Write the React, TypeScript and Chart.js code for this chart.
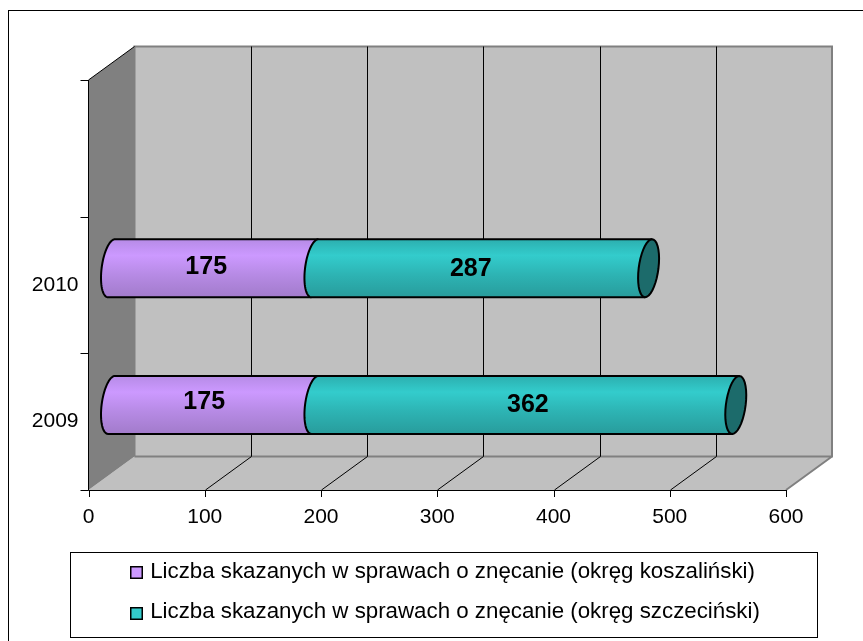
import React, { useEffect, useRef } from "react";
import { Chart, registerables } from "chart.js";

Chart.register(...registerables);

const categories = ["", "2010", "2009"];
const koszalin = [null, 175, 175];
const szczecin = [null, 287, 362];
const seriesNames = [
  "Liczba skazanych w sprawach o znęcanie (okręg koszaliński)",
  "Liczba skazanych w sprawach o znęcanie (okręg szczeciński)",
];
const seriesColors = ["#CC99FF", "#33CCCC"];
const xTicks = [0, 100, 200, 300, 400, 500, 600];

const FONT = "'Liberation Sans', Arial, sans-serif";
const DX = 46;
const DY = -33.5;
const A = 9.9;
const SHEAR = 3.5;
const LABEL_NUDGE: Record<string, [number, number]> = {
  "0-1": [-7, -1],
  "0-2": [-9, -2.5],
  "1-1": [-11, 1],
  "1-2": [2.5, 0.5],
};

function capPoint(xc: number, yc: number, b: number, t: number): [number, number] {
  return [xc + A * Math.cos(t) - SHEAR * Math.sin(t), yc + b * Math.sin(t)];
}

function arc(ctx: CanvasRenderingContext2D, xc: number, yc: number, b: number, from: number, to: number, move: boolean) {
  const n = 36;
  for (let i = 0; i <= n; i++) {
    const t = from + ((to - from) * i) / n;
    const [x, y] = capPoint(xc, yc, b, t);
    if (i === 0 && move) ctx.moveTo(x, y);
    else ctx.lineTo(x, y);
  }
}

function barGradient(ctx: CanvasRenderingContext2D, top: number, bottom: number, idx: number) {
  const g = ctx.createLinearGradient(0, top, 0, bottom);
  if (idx === 0) {
    g.addColorStop(0, "#B68BE6");
    g.addColorStop(0.28, "#CC99FF");
    g.addColorStop(0.62, "#B68AE4");
    g.addColorStop(1, "#A27BCB");
  } else {
    g.addColorStop(0, "#2CAFAF");
    g.addColorStop(0.28, "#33CCCC");
    g.addColorStop(0.62, "#2DB3B3");
    g.addColorStop(1, "#289C9C");
  }
  return g;
}

const scene3d = {
  id: "scene3d",
  afterLayout(chart: any) {
    const lg = chart.legend;
    if (lg) {
      lg.left = 113;
      lg.right = 818;
      lg.top = 544;
      lg.bottom = 641;
      lg.height = 97;
    }
  },
  beforeDatasetsDraw(chart: any) {
    const { ctx, chartArea: ca, scales } = chart;
    const { left, right, top, bottom } = ca;
    ctx.save();
    // outer frame
    ctx.strokeStyle = "#000";
    ctx.lineWidth = 1;
    ctx.strokeRect(8.5, 10.5, 900, 700);
    // back wall
    ctx.fillStyle = "#C0C0C0";
    ctx.fillRect(left + DX, top + DY, right - left, bottom - top);
    // floor
    ctx.beginPath();
    ctx.moveTo(left, bottom);
    ctx.lineTo(right, bottom);
    ctx.lineTo(right + DX, bottom + DY);
    ctx.lineTo(left + DX, bottom + DY);
    ctx.closePath();
    ctx.fill();
    // side wall
    ctx.fillStyle = "#808080";
    ctx.beginPath();
    ctx.moveTo(left, top);
    ctx.lineTo(left + DX, top + DY);
    ctx.lineTo(left + DX, bottom + DY);
    ctx.lineTo(left, bottom);
    ctx.closePath();
    ctx.fill();
    // wall edges
    ctx.strokeStyle = "#808080";
    ctx.lineWidth = 2;
    ctx.beginPath();
    ctx.moveTo(left + DX, bottom + DY);
    ctx.lineTo(left + DX, top + DY);
    ctx.lineTo(right + DX, top + DY);
    ctx.lineTo(right + DX, bottom + DY);
    ctx.lineTo(left + DX, bottom + DY);
    ctx.moveTo(right, bottom);
    ctx.lineTo(right + DX, bottom + DY);
    ctx.stroke();
    // grid
    ctx.strokeStyle = "#000";
    ctx.lineWidth = 1;
    ctx.beginPath();
    xTicks.forEach((v, i) => {
      const x = Math.round(scales.x.getPixelForValue(v)) + 0.5;
      ctx.moveTo(x, bottom);
      ctx.lineTo(x, bottom + 7);
      if (i > 0 && i < xTicks.length - 1) {
        ctx.moveTo(x, bottom);
        ctx.lineTo(x + DX, bottom + DY);
        ctx.lineTo(x + DX, top + DY);
      }
    });
    ctx.stroke();
    // category ticks, from the band edges
    const step = (bottom - top) / categories.length;
    ctx.beginPath();
    for (let i = 0; i <= categories.length; i++) {
      const y = Math.round(top + i * step) + 0.5;
      ctx.moveTo(left - 8, y);
      ctx.lineTo(left, y);
    }
    ctx.moveTo(left, top);
    ctx.lineTo(left, bottom + 0.5);
    ctx.moveTo(left, bottom + 0.5);
    ctx.lineTo(right, bottom + 0.5);
    ctx.moveTo(left, top);
    ctx.lineTo(left + DX, top + DY);
    ctx.stroke();
    ctx.restore();
  },
  afterDatasetsDraw(chart: any) {
    const { ctx } = chart;
    ctx.save();
    const half = { x: DX / 2, y: DY / 2 };
    chart.data.labels.forEach((_: string, j: number) => {
      chart.data.datasets.forEach((ds: any, i: number) => {
        if (ds.data[j] == null) return;
        const el = chart.getDatasetMeta(i).data[j];
        const x0 = el.base + half.x;
        const x1 = el.x + half.x;
        const yc = el.y + half.y;
        const b = el.height / 2;
        ctx.beginPath();
        arc(ctx, x0, yc, b, -Math.PI / 2, -(3 * Math.PI) / 2, true);
        arc(ctx, x1, yc, b, Math.PI / 2, -Math.PI / 2, false);
        ctx.closePath();
        ctx.fillStyle = barGradient(ctx, yc - b, yc + b, i);
        ctx.fill();
        ctx.strokeStyle = "#000";
        ctx.lineWidth = 2;
        ctx.lineJoin = "round";
        ctx.beginPath();
        arc(ctx, x1, yc, b, -Math.PI / 2, -Math.PI / 2, true);
        const [tx, ty] = capPoint(x0, yc, b, -Math.PI / 2);
        ctx.lineTo(tx, ty);
        arc(ctx, x0, yc, b, -Math.PI / 2, -(3 * Math.PI) / 2, false);
        const [bx, by] = capPoint(x1, yc, b, Math.PI / 2);
        ctx.lineTo(bx, by);
        ctx.stroke();
        if (i === chart.data.datasets.length - 1) {
          ctx.beginPath();
          arc(ctx, x1, yc, b, 0, Math.PI * 2, true);
          ctx.closePath();
          ctx.fillStyle = "#1C6B6B";
          ctx.fill();
          ctx.stroke();
        }
      });
    });
    chart.data.labels.forEach((_: string, j: number) => {
      chart.data.datasets.forEach((ds: any, i: number) => {
        if (ds.data[j] == null) return;
        const el = chart.getDatasetMeta(i).data[j];
        const n = LABEL_NUDGE[`${i}-${j}`] || [0, 0];
        ctx.fillStyle = "#000";
        ctx.font = `bold 25px ${FONT}`;
        ctx.textAlign = "center";
        ctx.textBaseline = "middle";
        ctx.fillText(String(ds.data[j]), (el.base + el.x) / 2 + half.x + n[0], el.y + half.y + n[1]);
      });
    });
    ctx.restore();
  },
  afterDraw(chart: any) {
    const { ctx } = chart;
    ctx.save();
    ctx.strokeStyle = "#000";
    ctx.lineWidth = 1;
    ctx.strokeRect(70.5, 552.5, 747, 85);
    ctx.lineWidth = 1.5;
    seriesColors.forEach((c, i) => {
      ctx.fillStyle = c;
      ctx.fillRect(130.75, 566.75 + 41 * i, 11.5, 11.5);
      ctx.strokeRect(130.75, 566.75 + 41 * i, 11.5, 11.5);
    });
    ctx.restore();
  },
};

export default function App() {
  const ref = useRef<HTMLCanvasElement>(null);
  useEffect(() => {
    document.body.style.margin = "0";
    const chart = new Chart(ref.current!, {
      type: "bar",
      plugins: [scene3d],
      data: {
        labels: categories,
        datasets: [
          { label: seriesNames[0], data: koszalin, backgroundColor: "transparent", barThickness: 58, clip: false },
          { label: seriesNames[1], data: szczecin, backgroundColor: "transparent", barThickness: 58, clip: false },
        ],
      } as any,
      options: {
        indexAxis: "y",
        responsive: false,
        animation: false,
        layout: { padding: { left: 10, right: 77, top: 80, bottom: 22.4 } },
        plugins: {
          tooltip: { enabled: false },
          legend: {
            position: "bottom",
            align: "start",
            labels: {
              boxWidth: 9,
              boxHeight: 12,
              padding: 17,
              color: "#000",
              font: { family: FONT, size: 22.3 },
              generateLabels: () =>
                seriesNames.map((text, i) => ({
                  text,
                  fillStyle: "transparent",
                  strokeStyle: "transparent",
                  lineWidth: 0,
                  datasetIndex: i,
                })),
            },
          },
        },
        scales: {
          x: {
            stacked: true,
            min: 0,
            max: 600,
            grid: { display: false },
            border: { display: false },
            ticks: { stepSize: 100, padding: 6.5, color: "#000", font: { family: FONT, size: 21 }, maxRotation: 0 },
            afterFit: (s: any) => { s.height = 40; },
          },
          y: {
            stacked: true,
            grid: { display: false },
            border: { display: false },
            ticks: { padding: 2, color: "#000", font: { family: FONT, size: 21 }, autoSkip: false },
            afterFit: (s: any) => { s.width = 78.5; },
          },
        },
      } as any,
    });
    return () => chart.destroy();
  }, []);
  return (
    <div style={{ width: 863, height: 641 }}>
      <canvas ref={ref} width={863} height={641} style={{ display: "block" }} />
    </div>
  );
}
